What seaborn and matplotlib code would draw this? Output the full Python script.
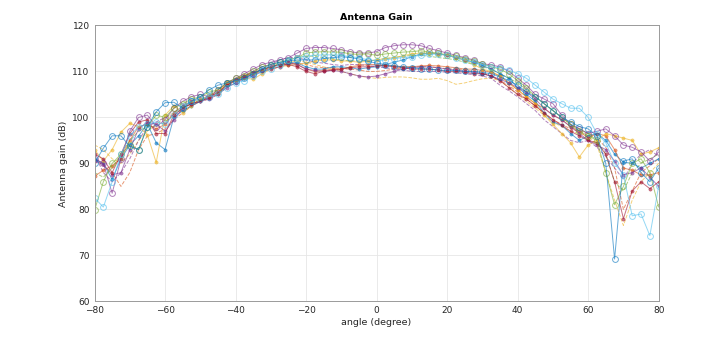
import numpy as np
import pandas as pd
import matplotlib
matplotlib.use("Agg")
import matplotlib.pyplot as plt
import seaborn as sns

angles = [-80 + 2.5 * i for i in range(65)]

purple_circ = [91, 90, 83.5, 91, 97, 100, 100.5, 98, 99.5, 102, 103.5, 104.5, 105, 104.5, 106, 107.5, 108.5, 109.5, 110.5, 111.5, 112, 112.5, 113, 114, 115, 115.2, 115.2, 115, 114.7, 114.3, 114, 114, 114.3, 115.2, 115.6, 115.8, 115.8, 115.6, 115, 114.5, 114, 113.5, 113, 112.5, 111.7, 111.4, 111, 110, 108.5, 107, 105, 104, 103, 100.5, 98.5, 97.5, 96.5, 97, 97.5, 96, 94, 93.5, 92.5, 90.5, 92.5]
green_circ = [79.8, 86, 90, 92, 94, 93, 98, 100.5, 100, 102, 103, 104, 104.5, 105.5, 106, 107.5, 108.5, 109, 110, 111, 111.5, 112, 112.5, 113, 114, 114.2, 114.3, 114.2, 114.2, 113.8, 113.7, 113.8, 113.5, 113.8, 114, 114.2, 114.3, 114.5, 114.2, 114, 113.6, 113.3, 112.8, 112.3, 111.7, 111, 110.5, 109.5, 108, 106.5, 104.5, 103, 101.5, 100, 98.5, 97, 96, 95, 88, 81, 85, 90, 91, 88, 80.5]
lblue_circ = [82.5, 80.5, 86, 92, 96, 98, 98.5, 99, 98.5, 100.5, 102.5, 103.5, 104, 104.5, 105, 106.5, 107.5, 108, 109, 110, 110.5, 111.5, 112.5, 113, 113.3, 113.5, 113.6, 113.6, 113.5, 113.2, 113, 112.5, 112.3, 112.5, 112.8, 113, 113.2, 113.5, 113.7, 113.8, 113.5, 113, 112.5, 112, 111.5, 111, 110.8, 110.3, 109.5, 108.5, 107, 105.5, 104, 103, 102, 102, 100, 96.5, 94.5, 90, 87.5, 78.6, 79, 74.3, 85]
blue_circ = [90, 93.3, 96, 96, 93.7, 93, 98, 101.2, 103.2, 103.3, 102, 103.5, 104.5, 106, 107, 107.5, 108, 108.5, 109.5, 110.5, 111.5, 112, 112.3, 112.5, 112.5, 112.5, 112.8, 113, 113.2, 113, 112.7, 112.2, 111.8, 111.5, 111.2, 111, 110.8, 110.6, 110.5, 110.3, 110.2, 110.2, 110, 110, 109.8, 109.5, 108.8, 108, 107, 105.5, 104.5, 103, 101.5, 100, 99, 98, 97.5, 96, 90, 69.2, 90.5, 91, 88, 86, 89]
blue_dot = [91, 90, 86.5, 91, 94, 96, 98.5, 94.5, 93, 100, 101.5, 102.5, 103.5, 104.5, 105, 107, 108, 108.5, 109.5, 110.5, 111, 111.5, 112, 111.8, 111, 110.5, 110.5, 111, 111, 110.8, 110.5, 110.8, 111, 111.5, 112, 112.5, 113.2, 113.8, 114, 113.8, 113.5, 113, 112.5, 112, 111.3, 110.5, 109.5, 108.5, 106.5, 105, 103.5, 101, 99, 98.3, 96.5, 95, 96, 96.5, 95, 92, 90.3, 90, 89, 90, 91]
orange_dot = [87.2, 88.5, 89.5, 91, 95, 98, 98.5, 97.5, 98.5, 101, 102.5, 103.5, 104, 104.5, 105.5, 107, 108, 109, 109.5, 110, 110.8, 111.5, 112, 111.5, 110.5, 110, 110.2, 110.5, 110.5, 111, 111.3, 111.5, 111.5, 111.3, 111.2, 111, 111, 111.2, 111.3, 111.2, 111, 110.8, 110.5, 110.5, 110.2, 109.8, 109, 107.5, 106, 104.5, 103, 102, 100.5, 99.5, 98, 97, 95.5, 96.5, 96, 93, 89, 88.5, 87.5, 87.5, 88]
yellow_dot = [93, 90.5, 93, 96.8, 98.7, 98, 96.2, 90.2, 100.5, 102.5, 101, 102.5, 104, 104.5, 105, 107.8, 108, 108.5, 108.3, 109.5, 110.5, 111, 111.3, 111.5, 111.8, 112.2, 112.5, 112.5, 112.3, 112.2, 112, 112.2, 112.5, 112.8, 113, 113.4, 113.8, 114, 114, 113.8, 113.5, 113, 112.5, 111.5, 110.5, 110, 109, 107.5, 106, 104.5, 103, 100.5, 98.5, 96.5, 94.5, 91.4, 94, 95, 96.5, 96, 95.5, 95, 92, 92.5, 93.4]
purple_dot = [90.5, 89.8, 87.5, 88, 93, 97.5, 99, 98.5, 97, 99.5, 102, 103, 103.5, 104, 105, 106.5, 107.5, 108.5, 109, 110, 110.5, 111, 111.8, 111.5, 110.5, 110.2, 110, 110.2, 110, 109.5, 109, 108.8, 109, 109.5, 110, 110.5, 110.8, 111, 111, 110.8, 110.5, 110.3, 110, 109.8, 109.5, 109, 108.3, 107.5, 106.5, 105.5, 104, 102, 100.5, 99.5, 98, 96.5, 95, 94, 93, 90.5, 87.5, 88, 89, 87, 85]
dred_dot = [92, 91, 88, 92, 96.5, 99, 99.5, 96.5, 96.5, 100.5, 102, 103, 103.5, 104.3, 105.5, 107, 108.3, 109, 109.8, 110.3, 111, 111.5, 111.5, 111, 110, 109.5, 110, 110.3, 110.5, 110.8, 111, 111, 111.2, 111.2, 111, 110.8, 110.5, 110.5, 110.5, 110.3, 110, 110, 109.8, 109.5, 109.5, 109, 108, 106.5, 105, 104, 102.5, 101, 99.5, 98.3, 97, 96, 95, 94.5, 92, 86, 78, 84, 86, 84.5, 86]
yellow_dash = [94, 93, 91, 90, 92, 95, 97, 98.5, 100, 101, 102, 103, 103.8, 104.5, 106, 107.5, 108.5, 109.3, 110, 110.5, 111, 111.5, 112, 112.3, 112, 111.5, 111, 110.5, 110, 109.5, 109, 108.7, 108.5, 108.7, 108.8, 108.8, 108.6, 108.3, 108.3, 108.5, 108, 107.2, 107.5, 108, 108.4, 108.5, 108, 106.5, 105, 103.5, 102, 100.5, 99, 98, 97, 96.5, 96, 94, 88, 82, 76.5, 82, 86, 88, 90]
purple_dash = [92, 88, 86, 88, 91, 95, 98, 99, 100, 100.5, 101.5, 102.5, 103.5, 104.5, 105.5, 106.5, 108, 109, 110, 111, 111.5, 112.5, 113, 113, 112.5, 112, 111.8, 111.5, 111.3, 111.5, 111.5, 111.3, 111, 110.8, 110.5, 110.3, 110, 110, 110, 110, 109.8, 109.7, 109.5, 109.3, 109, 108.5, 107, 105.8, 104.5, 103, 101.5, 99.5, 98, 96.5, 95, 94.5, 95, 93.5, 91.5, 89, 86.5, 90, 92, 93, 91.5]
orange_dash = [91, 89.5, 88, 85, 88, 93, 96, 96.5, 97.5, 99.5, 101, 102.5, 103.5, 104, 105, 106.5, 107.5, 108.5, 109.3, 110, 110.5, 111, 111.5, 111.8, 111.5, 111, 110.8, 110.8, 110.6, 110.5, 110.3, 110, 110, 110.2, 110.5, 110.8, 111, 111, 111, 110.8, 110.6, 110.5, 110.3, 110, 109.8, 109, 108, 107, 105.5, 104, 102.5, 101, 99.5, 98.5, 97.5, 97, 96.5, 95.5, 93.5, 89, 80, 84, 88, 89.5, 91]
green_dash = [88, 87, 89, 92, 95, 97, 98, 98, 99, 100.5, 102, 103, 103.8, 104.8, 106, 107, 108, 108.8, 109.5, 110.3, 111, 111.8, 112.5, 113, 113.3, 113.3, 113, 112.8, 112.5, 112.3, 112.3, 112.3, 112.5, 112.8, 113, 113.3, 113.5, 113.5, 113.3, 113, 112.8, 112.5, 112, 111.5, 111, 110.5, 109.5, 108.5, 107.5, 106, 104.5, 103, 101.5, 100, 98.5, 97.5, 96.5, 95, 92, 86, 84, 88, 90, 91, 92]

C_BLUE = "#0072BD"
C_ORANGE = "#D95319"
C_YELLOW = "#EDB120"
C_PURPLE = "#7E2F8E"
C_GREEN = "#77AC30"
C_LBLUE = "#4DBEEE"
C_DRED = "#A2142F"

series = [
    (yellow_dash, C_YELLOW, "--", None),
    (purple_dash, C_PURPLE, "--", None),
    (orange_dash, C_ORANGE, "--", None),
    (green_dash, C_GREEN, "--", None),
    (blue_dot, C_BLUE, "-", "."),
    (orange_dot, C_ORANGE, "-", "."),
    (yellow_dot, C_YELLOW, "-", "."),
    (purple_dot, C_PURPLE, "-", "."),
    (dred_dot, C_DRED, "-", "."),
    (purple_circ, C_PURPLE, "-", "o"),
    (green_circ, C_GREEN, "-", "o"),
    (lblue_circ, C_LBLUE, "-", "o"),
    (blue_circ, C_BLUE, "-", "o"),
]

sns.set_style("white")
plt.rcParams['font.family'] = ['DejaVu Sans']

fig = plt.figure(figsize=(7.27, 3.39), dpi=100)
ax = fig.add_axes([0.130, 0.111, 0.776, 0.814])

for vals, col, ls, mk in series:
    df = pd.DataFrame({"angle": angles, "gain": vals})
    kw = dict(color=col, linestyle=ls, linewidth=0.7, alpha=0.6)
    if mk == "o":
        kw.update(marker="o", markersize=4.2, markerfacecolor="none",
                  markeredgecolor=col, markeredgewidth=0.7)
    elif mk == ".":
        kw.update(marker="o", markersize=2.4, markerfacecolor=col,
                  markeredgecolor=col, markeredgewidth=0.3)
    sns.lineplot(data=df, x="angle", y="gain", ax=ax, **kw)

ax.set_xlim(-80, 80)
ax.set_ylim(60, 120)
ax.set_xticks(list(range(-80, 81, 20)))
ax.set_yticks(list(range(60, 121, 10)))
ax.grid(True, color="#e6e6e6", linewidth=0.6)
ax.tick_params(direction="in", length=3, labelsize=6.5, labelcolor="#262626",
               color="#8a8a8a", width=0.6)
for s in ax.spines.values():
    s.set_color("#9a9a9a")
    s.set_linewidth(0.7)
ax.set_xlabel("angle (degree)", fontsize=6.8, color="#262626", labelpad=2)
ax.set_ylabel("Antenna gain (dB)", fontsize=6.8, color="#262626", labelpad=3)
ax.set_title("Antenna Gain", fontsize=6.8, fontweight="bold", color="#000000", pad=4)

fig.savefig("out.png", dpi=100)
